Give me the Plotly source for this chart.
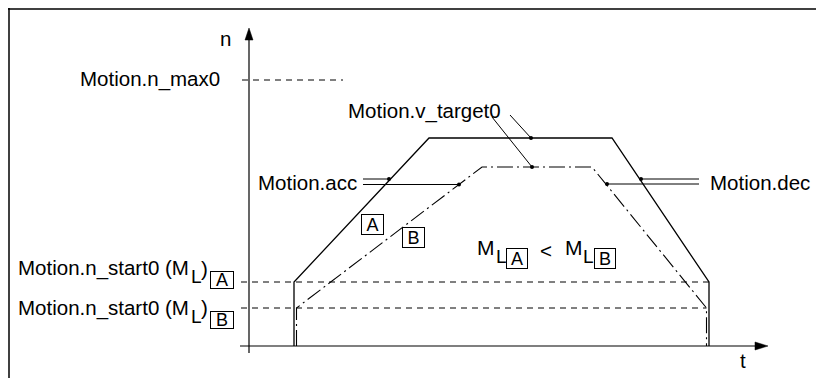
import plotly.graph_objects as go

FONT = "Liberation Sans, Arial, sans-serif"

# speed profile A (lower load) and B (higher load), diagram units
t_a = [4.5, 4.5, 18.0, 36.3, 46.0, 46.0]
n_a = [0, 6.4, 20.8, 20.8, 6.4, 0]
t_b = [4.75, 4.75, 23.3, 34.3, 45.75, 45.75]
n_b = [0, 3.8, 17.9, 17.9, 3.8, 0]

n_max0 = 26.6
n_start_a = 6.4
n_start_b = 3.8

# marked points on the profiles, [A, B]
acc_t = [14.0, 21.0]
acc_n = [16.7, 16.15]
dec_t = [39.2, 35.8]
dec_n = [16.7, 16.2]
vt_t = [28.2, 28.3]
vt_n = [20.8, 17.9]

# axes extents
t_axis = [-0.9, 50.6, 51.9]
n_axis = [-0.7, 30.6, 31.8]

fig = go.Figure()


def line(x, y, dash="solid", width=1.0):
    fig.add_trace(go.Scatter(x=x, y=y, mode="lines", hoverinfo="skip",
                             line=dict(color="black", width=width, dash=dash)))


# helper dashed levels
line([-0.7, 9.4], [n_max0, n_max0], dash="6px,5px")
line([-0.8, t_a[-1]], [n_start_a, n_start_a], dash="6px,5px")
line([-0.8, t_b[-1]], [n_start_b, n_start_b], dash="6px,5px")

# axes with arrow heads
line([0, 0], [n_axis[0], n_axis[1]], width=1.2)
line([t_axis[0], t_axis[1]], [0, 0], width=1.2)
fig.add_trace(go.Scatter(x=[-0.4, 0.4, 0, -0.4], y=[n_axis[1], n_axis[1], n_axis[2], n_axis[1]],
                         mode="lines", fill="toself", fillcolor="black",
                         line=dict(color="black", width=0.5), hoverinfo="skip"))
fig.add_trace(go.Scatter(x=[t_axis[1], t_axis[1], t_axis[2], t_axis[1]], y=[-0.4, 0.4, 0, -0.4],
                         mode="lines", fill="toself", fillcolor="black",
                         line=dict(color="black", width=0.5), hoverinfo="skip"))

# profiles
line(t_a, n_a, width=1.3)
line(t_b, n_b, dash="16px,4px,2px,4px", width=1.1)

# leader lines
line([11.4, acc_t[0]], [acc_n[0], acc_n[0]])
line([11.4, acc_t[1]], [acc_n[1], acc_n[1]])
line([dec_t[0], 45.0], [dec_n[0], dec_n[0]])
line([dec_t[1], 45.0], [dec_n[1], dec_n[1]])
line([26.1, vt_t[0]], [23.1, vt_n[0]])
line([24.3, vt_t[1]], [22.9, vt_n[1]])

fig.add_trace(go.Scatter(x=acc_t + dec_t + vt_t, y=acc_n + dec_n + vt_n, mode="markers",
                         marker=dict(color="black", size=4), hoverinfo="skip"))


def txt(x, y, s, xa="center", size=20.5, box=False, w=None, h=None):
    kw = dict(bordercolor="black", borderwidth=1, borderpad=0, width=w, height=h) if box else {}
    fig.add_annotation(x=x, y=y, text=s, showarrow=False, xanchor=xa, yanchor="middle",
                       font=dict(family=FONT, size=size, color="black"), **kw)


txt(-2.4, 30.8, "n")
txt(49.4, -1.4, "t")
txt(-2.7, 26.7, "Motion.n_max0", xa="right")
txt(25.4, 23.5, "Motion.v_target0", xa="right")
txt(11.0, 16.4, "Motion.acc", xa="right")
txt(45.9, 16.4, "Motion.dec", xa="left")

for n_mid, letter in [(7.8, "A"), (3.85, "B")]:
    txt(-5.8, n_mid, "Motion.n_start0 (M", xa="right")
    txt(-5.3, n_mid - 0.85, "L", size=19)
    txt(-4.5, n_mid, ")")
    txt(-2.75, n_mid - 1.2, letter, size=18, box=True, w=22, h=16)

txt(12.35, 12.2, "A", size=18, box=True, w=21, h=19)
txt(16.45, 10.9, "B", size=18, box=True, w=21, h=19)

txt(23.7, 9.9, "M", size=21)
txt(25.2, 9.0, "L", size=19)
txt(26.8, 8.8, "A", size=18, box=True, w=20, h=19)
txt(29.65, 9.6, "<")
txt(32.5, 9.9, "M", size=21)
txt(33.9, 9.0, "L", size=19)
txt(35.55, 8.8, "B", size=18, box=True, w=20, h=19)

# frame on left and top (figure edge sits 8px inside the page)
fig.add_shape(type="line", xref="paper", yref="paper", x0=1 / 816, x1=1 / 816, y0=0, y1=1,
              line=dict(color="black", width=1.5))
fig.add_shape(type="line", xref="paper", yref="paper", x0=0, x1=1, y0=1 - 1 / 370, y1=1 - 1 / 370,
              line=dict(color="black", width=1.5))

fig.update_layout(width=816, height=370, margin=dict(l=0, r=0, t=0, b=0),
                  paper_bgcolor="white", plot_bgcolor="white", showlegend=False,
                  xaxis=dict(range=[-24.1, 57.5], visible=False),
                  yaxis=dict(range=[-3.2, 33.8], visible=False))

fig.write_html("out.html")
